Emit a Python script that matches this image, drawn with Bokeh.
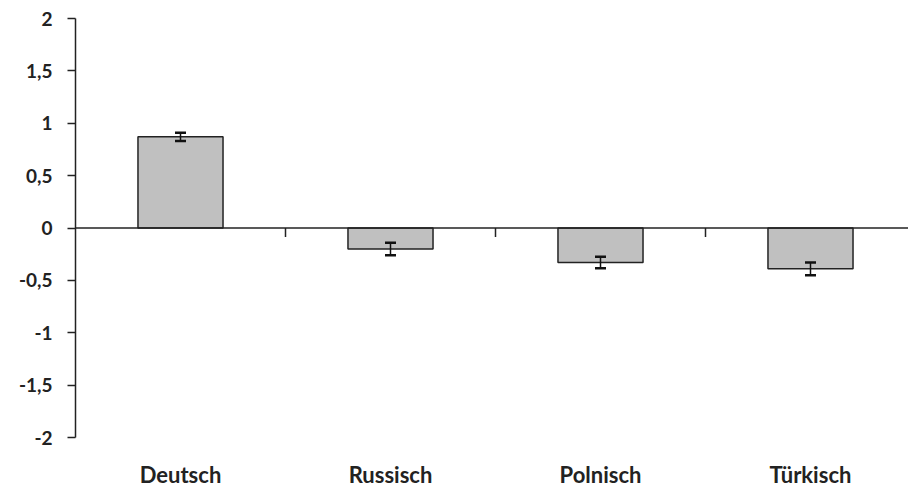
from bokeh.plotting import figure
from bokeh.models import (Range1d, FixedTicker, LinearAxis, Span, Whisker,
                          TeeHead, ColumnDataSource)
from bokeh.embed import file_html
from bokeh.resources import INLINE

categories = ["Deutsch", "Russisch", "Polnisch", "Türkisch"]
values = [0.87, -0.20, -0.33, -0.39]
errors = [0.04, 0.06, 0.055, 0.06]
y_ticks = [-2, -1.5, -1, -0.5, 0, 0.5, 1, 1.5, 2]
y_tick_labels = ["-2", "-1,5", "-1", "-0,5", "0", "0,5", "1", "1,5", "2"]

centers = [i + 0.5 for i in range(len(categories))]
boundaries = [i + 1 for i in range(len(categories) - 1)]
upper = [v + e for v, e in zip(values, errors)]
lower = [v - e for v, e in zip(values, errors)]

W, H = 908, 490
ML, MR, MT, MB = 75, 0, 18, 53
frame_w = W - ML - MR
cat_px = 210.0

p = figure(width=W, height=H, output_backend="svg", toolbar_location=None,
           x_range=Range1d(0, frame_w / cat_px), y_range=Range1d(-2, 2),
           min_border_left=ML, min_border_right=MR, min_border_top=MT,
           min_border_bottom=MB, x_axis_location=None, y_axis_location=None)
p.outline_line_color = None
p.xgrid.visible = False
p.ygrid.visible = False
p.background_fill_color = "white"
p.border_fill_color = "white"

FONT = "Lato"
TXT = "#222222"

yaxis = LinearAxis(ticker=FixedTicker(ticks=y_ticks),
                   major_label_overrides={t: s for t, s in zip(y_ticks, y_tick_labels)})
yaxis.axis_line_color = "#222222"
yaxis.axis_line_width = 1.5
yaxis.major_tick_line_color = "#222222"
yaxis.major_tick_line_width = 1.5
yaxis.major_tick_in = 0
yaxis.major_tick_out = 8
yaxis.minor_tick_line_color = None
yaxis.major_label_standoff = 15
yaxis.major_label_text_font = FONT
yaxis.major_label_text_font_style = "bold"
yaxis.major_label_text_font_size = "19px"
yaxis.major_label_text_color = TXT
p.add_layout(yaxis, "left")

xaxis = LinearAxis(ticker=FixedTicker(ticks=centers),
                   major_label_overrides={c: n for c, n in zip(centers, categories)})
xaxis.axis_line_color = None
xaxis.major_tick_line_color = None
xaxis.minor_tick_line_color = None
xaxis.major_tick_in = 0
xaxis.major_tick_out = 0
xaxis.major_label_standoff = 23
xaxis.major_label_text_font = FONT
xaxis.major_label_text_font_style = "bold"
xaxis.major_label_text_font_size = "22px"
xaxis.major_label_text_color = TXT
p.add_layout(xaxis, "below")

# zero line acting as category axis
p.add_layout(Span(location=0, dimension="width", line_color="#222222", line_width=1.5))
p.ray(x=boundaries, y=[0] * len(boundaries), length=9, length_units="screen",
      angle=-1.5708, line_color="#222222", line_width=1.5)

src = ColumnDataSource(dict(x=centers, top=values, upper=upper, lower=lower))
p.vbar(x="x", top="top", bottom=0, width=0.405, source=src,
       fill_color="#c0c0c0", line_color="#222222", line_width=1.5)

wh = Whisker(base="x", upper="upper", lower="lower", source=src, level="overlay",
             line_color="#111111", line_width=1.5,
             upper_head=TeeHead(size=11, line_color="#111111", line_width=2.5),
             lower_head=TeeHead(size=11, line_color="#111111", line_width=2.5))
p.add_layout(wh)

open("out.html", "w").write(file_html(p, INLINE))
